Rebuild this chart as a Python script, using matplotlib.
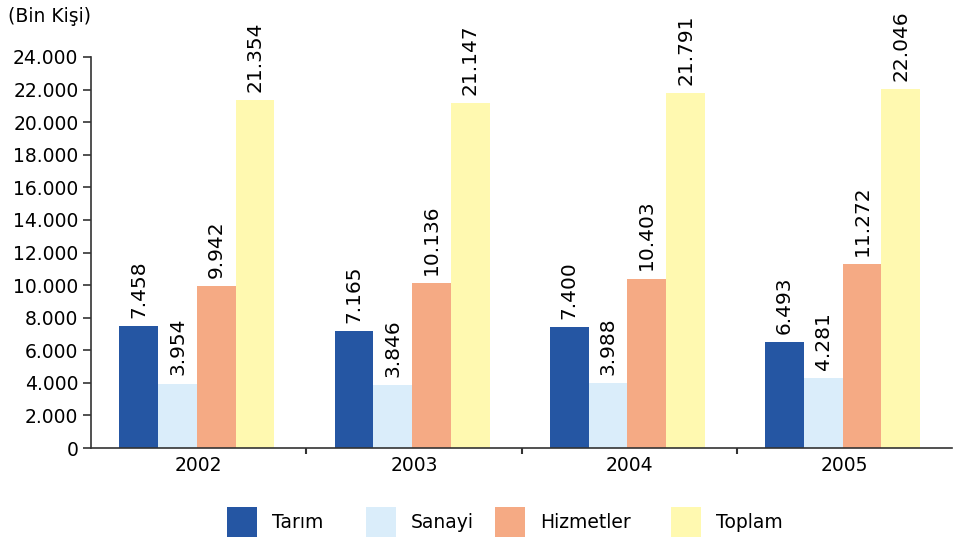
import numpy as np
import matplotlib.pyplot as plt
from matplotlib.patches import Rectangle
from matplotlib.ticker import FuncFormatter

years = ["2002", "2003", "2004", "2005"]
series = ["Tarım", "Sanayi", "Hizmetler", "Toplam"]
tarim = [7458, 7165, 7400, 6493]
sanayi = [3954, 3846, 3988, 4281]
hizmetler = [9942, 10136, 10403, 11272]
toplam = [21354, 21147, 21791, 22046]
colors = ["#2556a3", "#daedfa", "#f5aa84", "#fff9b0"]

plt.rcParams["font.family"] = ["DejaVu Sans"]
FS = 13.5


def dotted(v):
    return f"{int(v):,}".replace(",", ".")


fig = plt.figure(figsize=(9.54, 5.41), dpi=100)
ax = fig.add_axes([91 / 954, 93 / 541, 861 / 954, 391 / 541])

x = np.arange(len(years))
w = 0.18
for i, (vals, c) in enumerate(zip([tarim, sanayi, hizmetler, toplam], colors)):
    bars = ax.bar(x + (i - 1.5) * w - 0.008, vals, w, color=c, linewidth=0)
    for b, v in zip(bars, vals):
        ax.annotate(dotted(v), (b.get_x() + b.get_width() / 2, v),
                    xytext=(0, 6), textcoords="offset points",
                    rotation=90, ha="center", va="bottom",
                    fontsize=14.5, annotation_clip=False)

ax.set_xlim(-0.5, 3.5)
ax.set_ylim(0, 24000)
ax.set_yticks(np.arange(0, 24001, 2000))
ax.yaxis.set_major_formatter(FuncFormatter(lambda v, p: dotted(v)))
ax.tick_params(axis="y", labelsize=FS, length=6, width=1.2, color="#333333", pad=3)

# year labels centred under each group, small ticks between groups
ax.set_xticks(x)
ax.set_xticklabels(years, fontsize=FS)
ax.tick_params(axis="x", length=0, pad=6)
ax.set_xticks([0.5, 1.5, 2.5], minor=True)
ax.tick_params(axis="x", which="minor", length=4, width=1.5, color="#333333")

for s in ["top", "right"]:
    ax.spines[s].set_visible(False)
for s in ["left", "bottom"]:
    ax.spines[s].set_color("#333333")
    ax.spines[s].set_linewidth(1.2)

fig.text(8 / 954, 1 - 17 / 541, "(Bin Kişi)", fontsize=FS, va="center", ha="left")

# legend row at the bottom
patch_x = [227, 366, 495, 671]
for px, name, c in zip(patch_x, series, colors):
    fig.patches.append(Rectangle((px / 954, 4 / 541), 30 / 954, 30 / 541,
                                 transform=fig.transFigure, color=c, linewidth=0))
    fig.text((px + 45) / 954, 19 / 541, name, fontsize=FS, va="center", ha="left")

fig.savefig("out.png", dpi=100)
